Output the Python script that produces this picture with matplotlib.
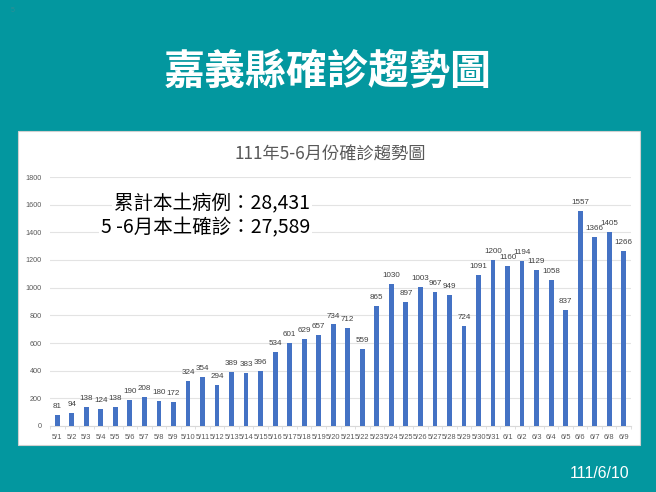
import matplotlib
matplotlib.use("Agg")
import matplotlib.pyplot as plt
from matplotlib.patches import Rectangle
import numpy as np

dates = ["5/%d" % d for d in range(1, 32)] + ["6/%d" % d for d in range(1, 10)]
cases = [81, 94, 138, 124, 138, 190, 208, 180, 172, 324,
         354, 294, 389, 383, 396, 534, 601, 629, 657, 734,
         712, 559, 865, 1030, 897, 1003, 967, 949, 724, 1091,
         1200,
         1160, 1194, 1129, 1058, 837, 1557, 1366, 1405, 1266]
yticks = list(range(0, 1801, 200))

main_title = "嘉義縣確診趨勢圖"
chart_title = "111年5-6月份確診趨勢圖"
note_lines = ["累計本土病例：28,431", "5 -6月本土確診：27,589"]
date_text = "111/6/10"

CJK = ["Noto Sans CJK TC", "DejaVu Sans"]
TEAL = "#03979F"
W, H = 656, 492

fig = plt.figure(figsize=(W / 100, H / 100), dpi=100)
fig.patch.set_facecolor(TEAL)

def fx(x):
    return x / W

def fy(y):
    return 1 - y / H

# white panel
fig.patches.append(Rectangle((fx(18), fy(445)), fx(640) - fx(18), fy(131) - fy(445),
                             transform=fig.transFigure, facecolor="white",
                             edgecolor="#D0D0D0", linewidth=0.8, zorder=0))

fig.text(fx(13), fy(10), "5", color="#2F8F96", fontsize=5, ha="center", va="center",
         family=["Liberation Sans"])
fig.text(fx(328), fy(72), main_title, color="white", fontsize=29.5, fontweight="bold",
         ha="center", va="center", family=CJK)
fig.text(fx(330), fy(155), chart_title, color="#595959", fontsize=12.4,
         ha="center", va="center", family=CJK)
fig.text(fx(629), fy(473), date_text, color="white", fontsize=11.4,
         ha="right", va="center", family=["Liberation Sans"])

ax = fig.add_axes([fx(50), fy(426), fx(631) - fx(50), fy(177) - fy(426)])
ax.set_zorder(2)
ax.set_facecolor("none")
x = np.arange(len(dates))
ax.bar(x, cases, width=0.33, color="#4472C4", zorder=3)
ax.set_xlim(-0.5, len(dates) - 0.5)
ax.set_ylim(0, 1800)
ax.set_yticks(yticks)
ax.set_yticklabels([str(v) for v in yticks], fontsize=5.2, color="#595959",
                   family="Liberation Sans")
ax.set_xticks(x)
ax.set_xticklabels(dates, fontsize=5.4, color="#595959", family="Liberation Sans")
ax.tick_params(axis="y", length=0, pad=6)
ax.tick_params(axis="x", length=0, pad=5.5)
ax.set_xticks(np.arange(-0.5, len(dates)), minor=True)
ax.tick_params(axis="x", which="minor", length=2.5, color="#D9D9D9", width=0.6)
ax.grid(axis="y", color="#E3E3E3", linewidth=0.8, zorder=0)
for s in ["top", "right", "left"]:
    ax.spines[s].set_visible(False)
ax.spines["bottom"].set_color("#D9D9D9")
ax.spines["bottom"].set_linewidth(0.8)

for xi, v in zip(x, cases):
    ax.annotate(str(v), (xi, v), xytext=(0, 3.5), textcoords="offset points",
                ha="center", va="bottom", fontsize=5.8, color="#404040",
                family="Liberation Sans", zorder=4)

for line, yy in zip(note_lines, [204, 228]):
    t = fig.text(fx(310), fy(yy), line, color="black", fontsize=14, ha="right",
                 va="center", family=CJK,
                 bbox=dict(facecolor="white", edgecolor="none", pad=1.5))
    t.set_zorder(10)

fig.savefig("out.png", dpi=100, facecolor=fig.get_facecolor())
